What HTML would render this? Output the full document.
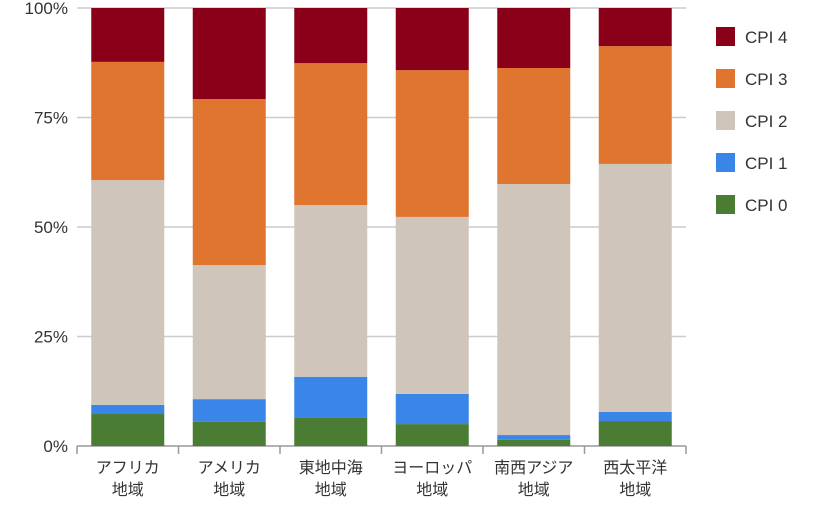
<!DOCTYPE html>
<html><head><meta charset="utf-8"><style>
body{margin:0;background:#fff}
svg text{font-family:"Liberation Sans","Noto Sans CJK JP",sans-serif;fill:#333}
</style></head><body>
<svg id="chart" width="815" height="500" xmlns="http://www.w3.org/2000/svg"></svg>
<script>
const categories=[["アフリカ","地域"],["アメリカ","地域"],["東地中海","地域"],["ヨーロッパ","地域"],["南西アジア","地域"],["西太平洋","地域"]];
const seriesNames=["CPI 0","CPI 1","CPI 2","CPI 3","CPI 4"];
const cpi0=[7.3,5.5,6.4,5.0,1.4,5.7];
const cpi1=[2.1,5.2,9.4,6.9,1.1,2.1];
const cpi2=[51.3,30.6,39.2,40.4,57.3,56.6];
const cpi3=[27.0,37.9,32.4,33.5,26.5,26.9];
const cpi4=[12.3,20.8,12.6,14.2,13.7,8.7];
const yTicks=[0,25,50,75,100];
const colors=["#4a7c34","#3a86e8","#d0c5ba","#e07530","#8b0019"];
const svg=document.getElementById('chart');const NS="http://www.w3.org/2000/svg";
const X0=77,X1=686,Y0=446,Y1=8;
const y=v=>Y0-(v/100)*(Y0-Y1);
const band=(X1-X0)/categories.length;
const xc=i=>X0+band*(i+0.5);
function mk(t,a){const e=document.createElementNS(NS,t);for(const k in a)e.setAttribute(k,a[k]);svg.appendChild(e);return e;}
yTicks.forEach(t=>{
 const l=mk('line',{x1:X0,x2:X1,y1:y(t),y2:y(t),stroke:t===0?'#999':'#ccc','stroke-width':t===0?1.5:1.5});
 
 
 const tx=mk('text',{x:68,y:y(t)+6,'text-anchor':'end','font-size':17});tx.textContent=t+'%';
 
 
});
for(let i=0;i<=categories.length;i++){
 const tk=mk('line',{x1:X0+band*i,x2:X0+band*i,y1:Y0,y2:Y0+8,stroke:'#999','stroke-width':1.5});
 
 
}
const series=[cpi0,cpi1,cpi2,cpi3,cpi4];
categories.forEach((c,i)=>{
 let cum=0;
 series.forEach((s,k)=>{
  const v=s[i];
  const r=mk('rect',{x:xc(i)-36.5,width:73,y:y(cum+v),height:y(cum)-y(cum+v),fill:colors[k]});
  
  
  cum+=v;
 });
 c.forEach((ln,j)=>{
  const t=mk('text',{x:xc(i),y:473+j*22,'text-anchor':'middle','font-size':16});t.textContent=ln;
  
  
 });
});
for(let k=4;k>=0;k--){
 const yy=27+(4-k)*42;
 const r=mk('rect',{x:716,y:yy,width:19,height:19,fill:colors[k]});
 
 
 const t=mk('text',{x:745,y:yy+16,'font-size':17});t.textContent=seriesNames[k];
 
 
}
</script>
</body></html>
